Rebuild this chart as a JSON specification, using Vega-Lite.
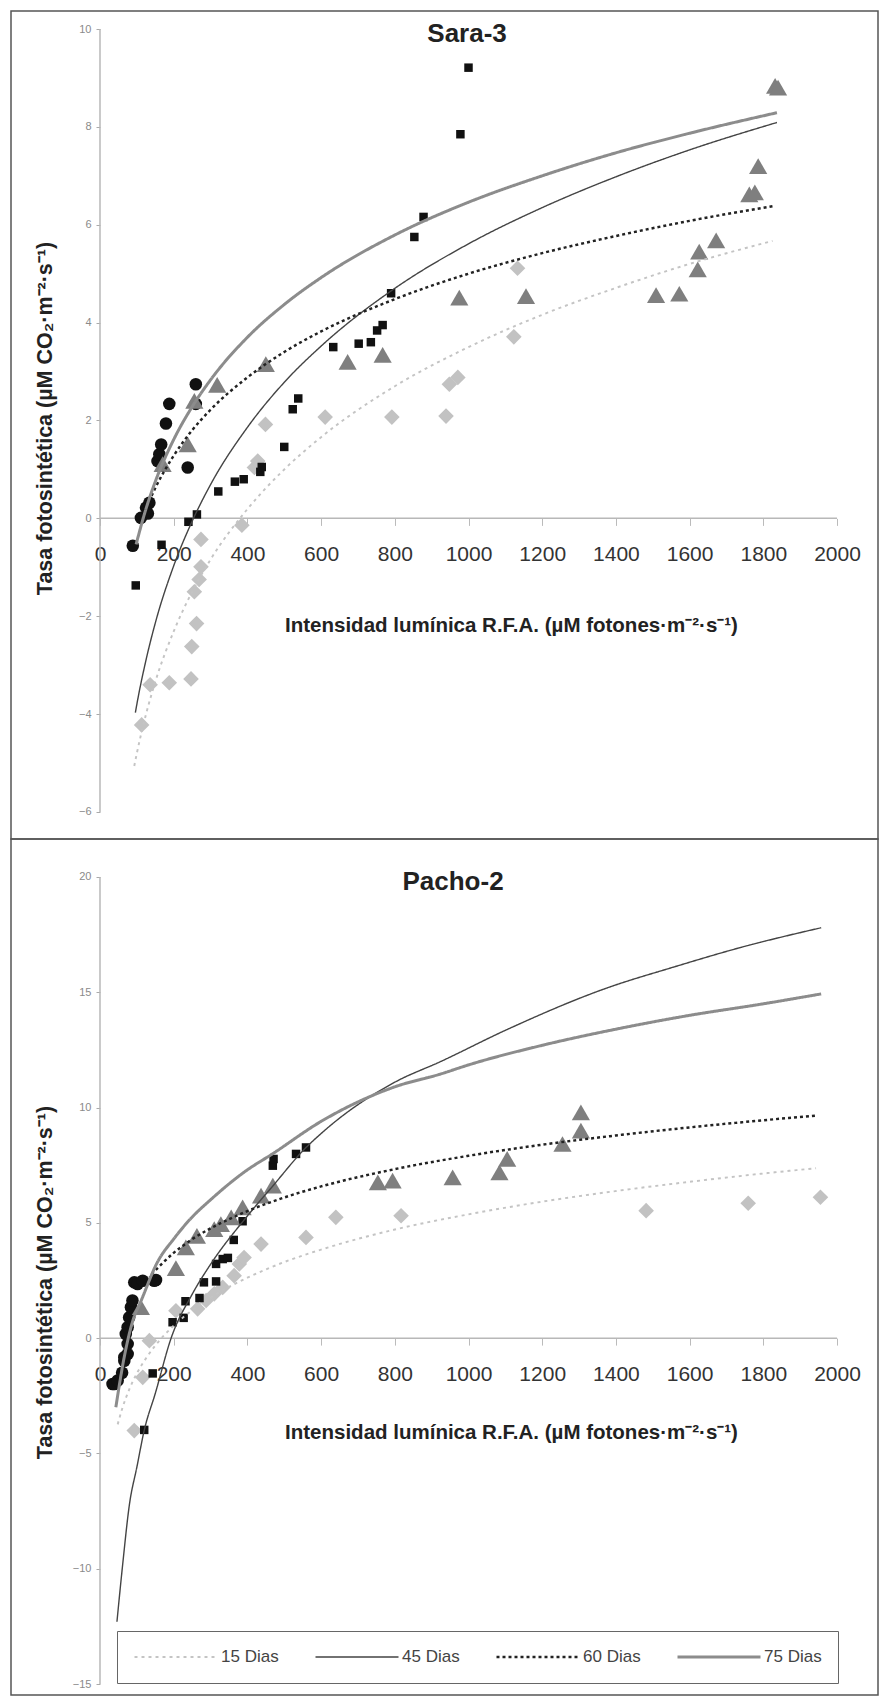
{
  "$schema": "https://vega.github.io/schema/vega-lite/v6.json",
  "padding": {"left": 10, "top": 10, "right": 3, "bottom": 2},
  "background": "white",
  "spacing": 0,
  "bounds": "flush",
  "config": {
    "font": "Liberation Sans",
    "view": {"stroke": "#555555", "strokeWidth": 1.5}
  },
  "resolve": {
    "scale": {"stroke": "independent", "strokeDash": "independent", "strokeWidth": "independent"},
    "legend": {"stroke": "independent", "strokeDash": "independent", "strokeWidth": "independent"}
  },
  "datasets": {
    "sara_axes": [
      {"x": 0, "x2": 2000, "y": 0, "y2": 0},
      {"x": 0, "x2": 0, "y": -6, "y2": 10}
    ],
    "pacho_axes": [
      {"x": 0, "x2": 2000, "y": 0, "y2": 0},
      {"x": 0, "x2": 0, "y": -15, "y2": 20}
    ],
    "sara_pts": [
      {"serie": "15 Dias", "x": 113, "y": -4.22}, {"serie": "15 Dias", "x": 136, "y": -3.40}, {"serie": "15 Dias", "x": 188, "y": -3.36},
      {"serie": "15 Dias", "x": 247, "y": -3.28}, {"serie": "15 Dias", "x": 249, "y": -2.62}, {"serie": "15 Dias", "x": 262, "y": -2.15},
      {"serie": "15 Dias", "x": 256, "y": -1.50}, {"serie": "15 Dias", "x": 269, "y": -1.25}, {"serie": "15 Dias", "x": 274, "y": -0.99},
      {"serie": "15 Dias", "x": 274, "y": -0.43}, {"serie": "15 Dias", "x": 385, "y": -0.14}, {"serie": "15 Dias", "x": 419, "y": 1.04},
      {"serie": "15 Dias", "x": 428, "y": 1.17}, {"serie": "15 Dias", "x": 449, "y": 1.92}, {"serie": "15 Dias", "x": 611, "y": 2.07},
      {"serie": "15 Dias", "x": 792, "y": 2.07}, {"serie": "15 Dias", "x": 939, "y": 2.09}, {"serie": "15 Dias", "x": 948, "y": 2.74},
      {"serie": "15 Dias", "x": 971, "y": 2.88}, {"serie": "15 Dias", "x": 1123, "y": 3.71}, {"serie": "15 Dias", "x": 1133, "y": 5.11},
      {"serie": "45 Dias", "x": 97, "y": -1.37}, {"serie": "45 Dias", "x": 167, "y": -0.54}, {"serie": "45 Dias", "x": 240, "y": -0.07},
      {"serie": "45 Dias", "x": 263, "y": 0.08}, {"serie": "45 Dias", "x": 321, "y": 0.55}, {"serie": "45 Dias", "x": 366, "y": 0.75},
      {"serie": "45 Dias", "x": 390, "y": 0.80}, {"serie": "45 Dias", "x": 435, "y": 0.95}, {"serie": "45 Dias", "x": 439, "y": 1.05},
      {"serie": "45 Dias", "x": 500, "y": 1.46}, {"serie": "45 Dias", "x": 523, "y": 2.23}, {"serie": "45 Dias", "x": 538, "y": 2.45},
      {"serie": "45 Dias", "x": 633, "y": 3.50}, {"serie": "45 Dias", "x": 702, "y": 3.57}, {"serie": "45 Dias", "x": 735, "y": 3.60},
      {"serie": "45 Dias", "x": 752, "y": 3.84}, {"serie": "45 Dias", "x": 767, "y": 3.95}, {"serie": "45 Dias", "x": 790, "y": 4.60},
      {"serie": "45 Dias", "x": 853, "y": 5.75}, {"serie": "45 Dias", "x": 878, "y": 6.16}, {"serie": "45 Dias", "x": 978, "y": 7.85},
      {"serie": "45 Dias", "x": 1000, "y": 9.21},
      {"serie": "60 Dias", "x": 89, "y": -0.56}, {"serie": "60 Dias", "x": 111, "y": 0.01}, {"serie": "60 Dias", "x": 125, "y": 0.22},
      {"serie": "60 Dias", "x": 130, "y": 0.10}, {"serie": "60 Dias", "x": 134, "y": 0.32}, {"serie": "60 Dias", "x": 156, "y": 1.17},
      {"serie": "60 Dias", "x": 161, "y": 1.31}, {"serie": "60 Dias", "x": 166, "y": 1.51}, {"serie": "60 Dias", "x": 179, "y": 1.94},
      {"serie": "60 Dias", "x": 188, "y": 2.34}, {"serie": "60 Dias", "x": 238, "y": 1.04}, {"serie": "60 Dias", "x": 260, "y": 2.34},
      {"serie": "60 Dias", "x": 260, "y": 2.74},
      {"serie": "75 Dias", "x": 170, "y": 1.11}, {"serie": "75 Dias", "x": 238, "y": 1.51}, {"serie": "75 Dias", "x": 256, "y": 2.40},
      {"serie": "75 Dias", "x": 318, "y": 2.73}, {"serie": "75 Dias", "x": 450, "y": 3.15}, {"serie": "75 Dias", "x": 672, "y": 3.20},
      {"serie": "75 Dias", "x": 767, "y": 3.34}, {"serie": "75 Dias", "x": 975, "y": 4.51}, {"serie": "75 Dias", "x": 1156, "y": 4.54},
      {"serie": "75 Dias", "x": 1509, "y": 4.56}, {"serie": "75 Dias", "x": 1572, "y": 4.59}, {"serie": "75 Dias", "x": 1622, "y": 5.09},
      {"serie": "75 Dias", "x": 1626, "y": 5.45}, {"serie": "75 Dias", "x": 1672, "y": 5.68}, {"serie": "75 Dias", "x": 1762, "y": 6.62},
      {"serie": "75 Dias", "x": 1777, "y": 6.66}, {"serie": "75 Dias", "x": 1786, "y": 7.20}, {"serie": "75 Dias", "x": 1832, "y": 8.84},
      {"serie": "75 Dias", "x": 1840, "y": 8.80}
    ],
    "sara_fit": [
      {"serie": "15 Dias", "x": 93, "y": -5.06}, {"serie": "15 Dias", "x": 100, "y": -4.80}, {"serie": "15 Dias", "x": 125, "y": -4.00},
      {"serie": "15 Dias", "x": 150, "y": -3.34}, {"serie": "15 Dias", "x": 200, "y": -2.31}, {"serie": "15 Dias", "x": 250, "y": -1.50},
      {"serie": "15 Dias", "x": 300, "y": -0.84}, {"serie": "15 Dias", "x": 400, "y": 0.19}, {"serie": "15 Dias", "x": 500, "y": 1.00},
      {"serie": "15 Dias", "x": 600, "y": 1.66}, {"serie": "15 Dias", "x": 800, "y": 2.70}, {"serie": "15 Dias", "x": 1000, "y": 3.50},
      {"serie": "15 Dias", "x": 1200, "y": 4.16}, {"serie": "15 Dias", "x": 1400, "y": 4.71}, {"serie": "15 Dias", "x": 1600, "y": 5.20},
      {"serie": "15 Dias", "x": 1825, "y": 5.67},
      {"serie": "45 Dias", "x": 96, "y": -3.97}, {"serie": "45 Dias", "x": 100, "y": -3.80}, {"serie": "45 Dias", "x": 125, "y": -2.89},
      {"serie": "45 Dias", "x": 150, "y": -2.14}, {"serie": "45 Dias", "x": 200, "y": -0.97}, {"serie": "45 Dias", "x": 250, "y": -0.06},
      {"serie": "45 Dias", "x": 300, "y": 0.69}, {"serie": "45 Dias", "x": 400, "y": 1.86}, {"serie": "45 Dias", "x": 500, "y": 2.78},
      {"serie": "45 Dias", "x": 600, "y": 3.52}, {"serie": "45 Dias", "x": 800, "y": 4.70}, {"serie": "45 Dias", "x": 1000, "y": 5.61},
      {"serie": "45 Dias", "x": 1200, "y": 6.35}, {"serie": "45 Dias", "x": 1400, "y": 6.98}, {"serie": "45 Dias", "x": 1600, "y": 7.53},
      {"serie": "45 Dias", "x": 1837, "y": 8.09},
      {"serie": "60 Dias", "x": 140, "y": 0.46}, {"serie": "60 Dias", "x": 150, "y": 0.62}, {"serie": "60 Dias", "x": 200, "y": 1.28},
      {"serie": "60 Dias", "x": 250, "y": 1.80}, {"serie": "60 Dias", "x": 300, "y": 2.22}, {"serie": "60 Dias", "x": 400, "y": 2.88},
      {"serie": "60 Dias", "x": 500, "y": 3.40}, {"serie": "60 Dias", "x": 600, "y": 3.82}, {"serie": "60 Dias", "x": 800, "y": 4.48},
      {"serie": "60 Dias", "x": 1000, "y": 5.00}, {"serie": "60 Dias", "x": 1200, "y": 5.42}, {"serie": "60 Dias", "x": 1400, "y": 5.77},
      {"serie": "60 Dias", "x": 1600, "y": 6.08}, {"serie": "60 Dias", "x": 1825, "y": 6.38},
      {"serie": "75 Dias", "x": 98, "y": -0.53}, {"serie": "75 Dias", "x": 125, "y": 0.20}, {"serie": "75 Dias", "x": 150, "y": 0.75},
      {"serie": "75 Dias", "x": 200, "y": 1.61}, {"serie": "75 Dias", "x": 250, "y": 2.28}, {"serie": "75 Dias", "x": 300, "y": 2.83},
      {"serie": "75 Dias", "x": 400, "y": 3.70}, {"serie": "75 Dias", "x": 500, "y": 4.37}, {"serie": "75 Dias", "x": 600, "y": 4.92},
      {"serie": "75 Dias", "x": 800, "y": 5.79}, {"serie": "75 Dias", "x": 1000, "y": 6.46}, {"serie": "75 Dias", "x": 1200, "y": 7.00},
      {"serie": "75 Dias", "x": 1400, "y": 7.47}, {"serie": "75 Dias", "x": 1600, "y": 7.87}, {"serie": "75 Dias", "x": 1837, "y": 8.29}
    ],
    "pacho_pts": [
      {"serie": "15 Dias", "x": 93, "y": -4.01}, {"serie": "15 Dias", "x": 116, "y": -1.70}, {"serie": "15 Dias", "x": 134, "y": -0.11},
      {"serie": "15 Dias", "x": 206, "y": 1.19}, {"serie": "15 Dias", "x": 265, "y": 1.27}, {"serie": "15 Dias", "x": 288, "y": 1.63},
      {"serie": "15 Dias", "x": 310, "y": 1.92}, {"serie": "15 Dias", "x": 333, "y": 2.20}, {"serie": "15 Dias", "x": 364, "y": 2.71},
      {"serie": "15 Dias", "x": 378, "y": 3.22}, {"serie": "15 Dias", "x": 391, "y": 3.50}, {"serie": "15 Dias", "x": 437, "y": 4.08},
      {"serie": "15 Dias", "x": 559, "y": 4.37}, {"serie": "15 Dias", "x": 640, "y": 5.24}, {"serie": "15 Dias", "x": 817, "y": 5.31},
      {"serie": "15 Dias", "x": 1482, "y": 5.53}, {"serie": "15 Dias", "x": 1759, "y": 5.85}, {"serie": "15 Dias", "x": 1955, "y": 6.11},
      {"serie": "45 Dias", "x": 120, "y": -3.98}, {"serie": "45 Dias", "x": 143, "y": -1.53}, {"serie": "45 Dias", "x": 197, "y": 0.69},
      {"serie": "45 Dias", "x": 227, "y": 0.88}, {"serie": "45 Dias", "x": 232, "y": 1.60}, {"serie": "45 Dias", "x": 270, "y": 1.74},
      {"serie": "45 Dias", "x": 282, "y": 2.42}, {"serie": "45 Dias", "x": 315, "y": 2.46}, {"serie": "45 Dias", "x": 315, "y": 3.22},
      {"serie": "45 Dias", "x": 333, "y": 3.43}, {"serie": "45 Dias", "x": 347, "y": 3.48}, {"serie": "45 Dias", "x": 363, "y": 4.26},
      {"serie": "45 Dias", "x": 387, "y": 5.07}, {"serie": "45 Dias", "x": 469, "y": 7.48}, {"serie": "45 Dias", "x": 471, "y": 7.77},
      {"serie": "45 Dias", "x": 532, "y": 7.99}, {"serie": "45 Dias", "x": 559, "y": 8.27},
      {"serie": "60 Dias", "x": 34, "y": -1.99}, {"serie": "60 Dias", "x": 39, "y": -1.99}, {"serie": "60 Dias", "x": 48, "y": -1.84},
      {"serie": "60 Dias", "x": 60, "y": -1.50}, {"serie": "60 Dias", "x": 66, "y": -0.98}, {"serie": "60 Dias", "x": 66, "y": -0.83},
      {"serie": "60 Dias", "x": 75, "y": -0.69}, {"serie": "60 Dias", "x": 75, "y": -0.25}, {"serie": "60 Dias", "x": 70, "y": 0.18},
      {"serie": "60 Dias", "x": 75, "y": 0.47}, {"serie": "60 Dias", "x": 79, "y": 0.90}, {"serie": "60 Dias", "x": 84, "y": 1.34},
      {"serie": "60 Dias", "x": 88, "y": 1.63}, {"serie": "60 Dias", "x": 93, "y": 2.42}, {"serie": "60 Dias", "x": 102, "y": 2.35},
      {"serie": "60 Dias", "x": 116, "y": 2.49}, {"serie": "60 Dias", "x": 147, "y": 2.49}, {"serie": "60 Dias", "x": 152, "y": 2.52},
      {"serie": "75 Dias", "x": 111, "y": 1.34}, {"serie": "75 Dias", "x": 206, "y": 3.04}, {"serie": "75 Dias", "x": 233, "y": 3.94},
      {"serie": "75 Dias", "x": 263, "y": 4.44}, {"serie": "75 Dias", "x": 310, "y": 4.73}, {"serie": "75 Dias", "x": 328, "y": 4.95},
      {"serie": "75 Dias", "x": 356, "y": 5.24}, {"serie": "75 Dias", "x": 387, "y": 5.67}, {"serie": "75 Dias", "x": 437, "y": 6.18},
      {"serie": "75 Dias", "x": 469, "y": 6.61}, {"serie": "75 Dias", "x": 754, "y": 6.76}, {"serie": "75 Dias", "x": 794, "y": 6.83},
      {"serie": "75 Dias", "x": 957, "y": 6.97}, {"serie": "75 Dias", "x": 1084, "y": 7.19}, {"serie": "75 Dias", "x": 1105, "y": 7.77},
      {"serie": "75 Dias", "x": 1255, "y": 8.42}, {"serie": "75 Dias", "x": 1305, "y": 9.00}, {"serie": "75 Dias", "x": 1305, "y": 9.79}
    ],
    "pacho_fit": [
      {"serie": "15 Dias", "x": 48, "y": -3.74}, {"serie": "15 Dias", "x": 60, "y": -3.07}, {"serie": "15 Dias", "x": 80, "y": -2.20},
      {"serie": "15 Dias", "x": 100, "y": -1.53}, {"serie": "15 Dias", "x": 125, "y": -0.87}, {"serie": "15 Dias", "x": 150, "y": -0.32},
      {"serie": "15 Dias", "x": 200, "y": 0.54}, {"serie": "15 Dias", "x": 250, "y": 1.21}, {"serie": "15 Dias", "x": 300, "y": 1.76},
      {"serie": "15 Dias", "x": 400, "y": 2.62}, {"serie": "15 Dias", "x": 500, "y": 3.30}, {"serie": "15 Dias", "x": 600, "y": 3.84},
      {"serie": "15 Dias", "x": 800, "y": 4.71}, {"serie": "15 Dias", "x": 1000, "y": 5.37}, {"serie": "15 Dias", "x": 1200, "y": 5.92},
      {"serie": "15 Dias", "x": 1400, "y": 6.38}, {"serie": "15 Dias", "x": 1600, "y": 6.78}, {"serie": "15 Dias", "x": 1800, "y": 7.14},
      {"serie": "15 Dias", "x": 1943, "y": 7.37},
      {"serie": "45 Dias", "x": 46, "y": -12.3}, {"serie": "45 Dias", "x": 61, "y": -9.9}, {"serie": "45 Dias", "x": 80, "y": -7.2},
      {"serie": "45 Dias", "x": 100, "y": -5.6}, {"serie": "45 Dias", "x": 120, "y": -4.0}, {"serie": "45 Dias", "x": 150, "y": -2.4},
      {"serie": "45 Dias", "x": 193, "y": 0.0}, {"serie": "45 Dias", "x": 250, "y": 1.9}, {"serie": "45 Dias", "x": 300, "y": 3.2},
      {"serie": "45 Dias", "x": 400, "y": 5.3}, {"serie": "45 Dias", "x": 469, "y": 6.6}, {"serie": "45 Dias", "x": 555, "y": 8.2},
      {"serie": "45 Dias", "x": 609, "y": 9.0}, {"serie": "45 Dias", "x": 800, "y": 11.1}, {"serie": "45 Dias", "x": 925, "y": 12.0},
      {"serie": "45 Dias", "x": 1100, "y": 13.35}, {"serie": "45 Dias", "x": 1378, "y": 15.2}, {"serie": "45 Dias", "x": 1558, "y": 16.1},
      {"serie": "45 Dias", "x": 1740, "y": 16.95}, {"serie": "45 Dias", "x": 1957, "y": 17.8},
      {"serie": "60 Dias", "x": 140, "y": 2.77}, {"serie": "60 Dias", "x": 200, "y": 3.70}, {"serie": "60 Dias", "x": 250, "y": 4.29},
      {"serie": "60 Dias", "x": 300, "y": 4.76}, {"serie": "60 Dias", "x": 400, "y": 5.51}, {"serie": "60 Dias", "x": 500, "y": 6.10},
      {"serie": "60 Dias", "x": 600, "y": 6.58}, {"serie": "60 Dias", "x": 800, "y": 7.33}, {"serie": "60 Dias", "x": 1000, "y": 7.91},
      {"serie": "60 Dias", "x": 1200, "y": 8.39}, {"serie": "60 Dias", "x": 1400, "y": 8.79}, {"serie": "60 Dias", "x": 1600, "y": 9.14},
      {"serie": "60 Dias", "x": 1800, "y": 9.45}, {"serie": "60 Dias", "x": 1943, "y": 9.65},
      {"serie": "75 Dias", "x": 43, "y": -3.0}, {"serie": "75 Dias", "x": 66, "y": -0.8}, {"serie": "75 Dias", "x": 90, "y": 0.8},
      {"serie": "75 Dias", "x": 111, "y": 1.6}, {"serie": "75 Dias", "x": 156, "y": 3.3}, {"serie": "75 Dias", "x": 200, "y": 4.3},
      {"serie": "75 Dias", "x": 247, "y": 5.2}, {"serie": "75 Dias", "x": 300, "y": 6.0}, {"serie": "75 Dias", "x": 400, "y": 7.3},
      {"serie": "75 Dias", "x": 464, "y": 7.95}, {"serie": "75 Dias", "x": 600, "y": 9.4}, {"serie": "75 Dias", "x": 800, "y": 10.9},
      {"serie": "75 Dias", "x": 925, "y": 11.46}, {"serie": "75 Dias", "x": 1000, "y": 11.85}, {"serie": "75 Dias", "x": 1200, "y": 12.7},
      {"serie": "75 Dias", "x": 1400, "y": 13.4}, {"serie": "75 Dias", "x": 1600, "y": 14.0}, {"serie": "75 Dias", "x": 1800, "y": 14.5},
      {"serie": "75 Dias", "x": 1957, "y": 14.93}
    ]
  },
  "vconcat": [
    {
      "width": 867,
      "height": 828,
      "layer": [
        {
          "data": {"name": "sara_axes"},
          "mark": {"type": "rule", "color": "#b8b8b8", "strokeWidth": 1.5},
          "encoding": {
            "x": {
              "field": "x", "type": "quantitative",
              "scale": {"domain": [-241.5, 2111.2], "nice": false, "zero": false},
              "axis": {
                "title": "Intensidad lumínica R.F.A. (µM fotones·m⁻²·s⁻¹)",
                "values": [0, 200, 400, 600, 800, 1000, 1200, 1400, 1600, 1800, 2000], "format": "d",
                "offset": -320.6, "domain": false, "grid": false,
                "tickColor": "#bbbbbb", "tickSize": 7, "tickWidth": 1,
                "labelFontSize": 21, "labelColor": "#333333", "labelPadding": 18, "labelFlush": false, "labelOverlap": false,
                "titleFontSize": 20.5, "titleFontWeight": "bold", "titleColor": "#222222",
                "titleX": 500, "titleY": 107, "titleAlign": "center", "titleBaseline": "middle"
              }
            },
            "y": {
              "field": "y", "type": "quantitative",
              "scale": {"domain": [-6.552, 10.368], "nice": false, "zero": false},
              "axis": {
                "title": "Tasa fotosintética (µM CO₂·m⁻²·s⁻¹)",
                "values": [-6, -4, -2, 0, 2, 4, 6, 8, 10], "format": "d",
                "offset": -89, "domain": false, "grid": false,
                "tickColor": "#aaaaaa", "tickSize": 4,
                "labelFontSize": 11, "labelColor": "#8a8a8a", "labelPadding": 5,
                "titleFontSize": 21.5, "titleFontWeight": "bold", "titleColor": "#222222",
                "titleX": -55, "titleY": 407, "titleAlign": "center", "titleBaseline": "middle", "titleAngle": -90
              }
            },
            "x2": {"field": "x2"},
            "y2": {"field": "y2"}
          }
        },
        {
          "data": {"name": "sara_pts"},
          "mark": {"type": "point", "filled": true, "opacity": 1, "strokeWidth": 0},
          "encoding": {
            "x": {"field": "x", "type": "quantitative", "scale": {"domain": [-241.5, 2111.2], "nice": false, "zero": false}},
            "y": {"field": "y", "type": "quantitative", "scale": {"domain": [-6.552, 10.368], "nice": false, "zero": false}},
            "fill": {"field": "serie", "type": "nominal", "scale": {"domain": ["15 Dias", "45 Dias", "60 Dias", "75 Dias"], "range": ["#c2c2c2", "#111111", "#111111", "#7f7f7f"]}, "legend": null},
            "shape": {"field": "serie", "type": "nominal", "scale": {"domain": ["15 Dias", "45 Dias", "60 Dias", "75 Dias"], "range": ["diamond", "square", "circle", "triangle-up"]}, "legend": null},
            "size": {"field": "serie", "type": "nominal", "scale": {"type": "point", "padding": 0, "domain": ["45 Dias", "60 Dias", "15 Dias", "75 Dias"], "range": [72, 330]}, "legend": null}
          }
        },
        {
          "data": {"name": "sara_fit"},
          "mark": {"type": "line", "interpolate": "monotone"},
          "encoding": {
            "x": {"field": "x", "type": "quantitative", "scale": {"domain": [-241.5, 2111.2], "nice": false, "zero": false}},
            "y": {"field": "y", "type": "quantitative", "scale": {"domain": [-6.552, 10.368], "nice": false, "zero": false}},
            "stroke": {"field": "serie", "type": "nominal", "scale": {"domain": ["45 Dias", "15 Dias", "60 Dias", "75 Dias"], "range": ["#444444", "#c4c4c4", "#222222", "#8c8c8c"]}, "legend": null},
            "strokeDash": {"field": "serie", "type": "nominal", "scale": {"domain": ["45 Dias", "15 Dias", "60 Dias", "75 Dias"], "range": [[1, 0], [3, 4], [3, 3], [1, 0]]}, "legend": null},
            "strokeWidth": {"field": "serie", "type": "nominal", "scale": {"type": "point", "padding": 0, "domain": ["45 Dias", "15 Dias", "60 Dias", "75 Dias"], "range": [1.4, 3]}, "legend": null}
          }
        },
        {
          "data": {"values": [{"panel": "Sara-3"}]},
          "mark": {"type": "text", "align": "center", "baseline": "middle", "fontSize": 26, "fontWeight": "bold", "color": "#222222", "font": "Liberation Sans"},
          "encoding": {
            "x": {"datum": 996, "type": "quantitative"},
            "y": {"datum": 9.9, "type": "quantitative"},
            "text": {"field": "panel"}
          }
        }
      ]
    },
    {
      "width": 867,
      "height": 856,
      "layer": [
        {
          "data": {"name": "pacho_axes"},
          "mark": {"type": "rule", "color": "#b8b8b8", "strokeWidth": 1.5},
          "encoding": {
            "x": {
              "field": "x", "type": "quantitative",
              "scale": {"domain": [-241.5, 2111.2], "nice": false, "zero": false},
              "axis": {
                "title": "Intensidad lumínica R.F.A. (µM fotones·m⁻²·s⁻¹)",
                "values": [0, 200, 400, 600, 800, 1000, 1200, 1400, 1600, 1800, 2000], "format": "d",
                "offset": -356.9, "domain": false, "grid": false,
                "tickColor": "#bbbbbb", "tickSize": 7, "tickWidth": 1,
                "labelFontSize": 21, "labelColor": "#333333", "labelPadding": 18, "labelFlush": false, "labelOverlap": false,
                "titleFontSize": 20.5, "titleFontWeight": "bold", "titleColor": "#222222",
                "titleX": 500, "titleY": 94, "titleAlign": "center", "titleBaseline": "middle"
              }
            },
            "y": {
              "field": "y", "type": "quantitative",
              "scale": {"domain": [-15.477, 21.648], "nice": false, "zero": false},
              "axis": {
                "title": "Tasa fotosintética (µM CO₂·m⁻²·s⁻¹)",
                "values": [-15, -10, -5, 0, 5, 10, 15, 20], "format": "d",
                "offset": -89, "domain": false, "grid": false,
                "tickColor": "#aaaaaa", "tickSize": 4,
                "labelFontSize": 11, "labelColor": "#8a8a8a", "labelPadding": 5,
                "titleFontSize": 21.5, "titleFontWeight": "bold", "titleColor": "#222222",
                "titleX": -55, "titleY": 443, "titleAlign": "center", "titleBaseline": "middle", "titleAngle": -90
              }
            },
            "x2": {"field": "x2"},
            "y2": {"field": "y2"}
          }
        },
        {
          "data": {"name": "pacho_pts"},
          "mark": {"type": "point", "filled": true, "opacity": 1, "strokeWidth": 0},
          "encoding": {
            "x": {"field": "x", "type": "quantitative", "scale": {"domain": [-241.5, 2111.2], "nice": false, "zero": false}},
            "y": {"field": "y", "type": "quantitative", "scale": {"domain": [-15.477, 21.648], "nice": false, "zero": false}},
            "fill": {"field": "serie", "type": "nominal", "scale": {"domain": ["15 Dias", "45 Dias", "60 Dias", "75 Dias"], "range": ["#c2c2c2", "#111111", "#111111", "#7f7f7f"]}, "legend": null},
            "shape": {"field": "serie", "type": "nominal", "scale": {"domain": ["15 Dias", "45 Dias", "60 Dias", "75 Dias"], "range": ["diamond", "square", "circle", "triangle-up"]}, "legend": null},
            "size": {"field": "serie", "type": "nominal", "scale": {"type": "point", "padding": 0, "domain": ["45 Dias", "60 Dias", "15 Dias", "75 Dias"], "range": [72, 330]}, "legend": null}
          }
        },
        {
          "data": {"name": "pacho_fit"},
          "mark": {"type": "line", "interpolate": "monotone"},
          "encoding": {
            "x": {"field": "x", "type": "quantitative", "scale": {"domain": [-241.5, 2111.2], "nice": false, "zero": false}},
            "y": {"field": "y", "type": "quantitative", "scale": {"domain": [-15.477, 21.648], "nice": false, "zero": false}},
            "stroke": {
              "field": "serie", "type": "nominal",
              "scale": {"domain": ["45 Dias", "15 Dias", "60 Dias", "75 Dias"], "range": ["#444444", "#c4c4c4", "#222222", "#8c8c8c"]},
              "legend": {
                "title": null, "orient": "none", "legendX": 106, "legendY": 792,
                "values": ["15 Dias", "45 Dias", "60 Dias", "75 Dias"],
                "direction": "horizontal", "columns": 4,
                "symbolType": "stroke", "symbolSize": 6889, "clipHeight": 20,
                "labelOffset": 2, "columnPadding": 35, "padding": 16,
                "strokeColor": "#666666",
                "labelFontSize": 17, "labelFont": "Liberation Sans", "labelColor": "#444444", "labelLimit": 0
              }
            },
            "strokeDash": {"field": "serie", "type": "nominal", "scale": {"domain": ["45 Dias", "15 Dias", "60 Dias", "75 Dias"], "range": [[1, 0], [3, 4], [3, 3], [1, 0]]}},
            "strokeWidth": {"field": "serie", "type": "nominal", "scale": {"type": "point", "padding": 0, "domain": ["45 Dias", "15 Dias", "60 Dias", "75 Dias"], "range": [1.4, 3]}}
          }
        },
        {
          "data": {"values": [{"panel": "Pacho-2"}]},
          "mark": {"type": "text", "align": "center", "baseline": "middle", "fontSize": 26, "fontWeight": "bold", "color": "#222222", "font": "Liberation Sans"},
          "encoding": {
            "x": {"datum": 958, "type": "quantitative"},
            "y": {"datum": 19.78, "type": "quantitative"},
            "text": {"field": "panel"}
          }
        }
      ]
    }
  ]
}
